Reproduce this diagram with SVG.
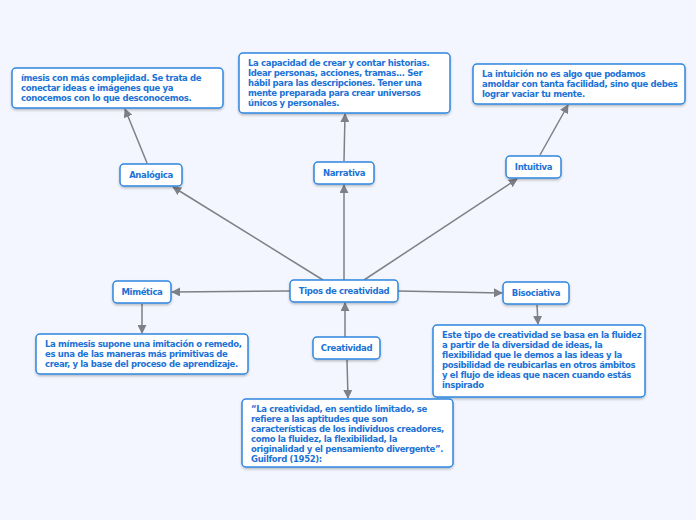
<svg xmlns="http://www.w3.org/2000/svg" width="696" height="520" viewBox="0 0 696 520">
<defs>
<marker id="ah" viewBox="0 0 10 10" refX="9" refY="5" markerWidth="9" markerHeight="9" markerUnits="userSpaceOnUse" orient="auto"><path d="M0,0 L10,5 L0,10 z" fill="#7f7f86"/></marker>
<filter id="sh" x="-10%" y="-10%" width="120%" height="130%"><feDropShadow dx="0" dy="1.5" stdDeviation="1" flood-color="#000" flood-opacity="0.25"/></filter>
</defs>
<style>
.n{fill:#fff;stroke:#2f87e0;stroke-width:1.5;filter:url(#sh)}
text{font-family:"DejaVu Sans",sans-serif;font-weight:bold;font-size:8.5px;letter-spacing:-0.35px;fill:#1c72d6}
.c{text-anchor:middle}
.e{stroke:#7f7f86;stroke-width:1.5;fill:none;marker-end:url(#ah)}
</style>
<rect width="696" height="520" fill="#f3f6fe"/>
<g id="connectors">
<line class="e" x1="323" y1="280" x2="173" y2="187"/>
<line class="e" x1="344" y1="280" x2="344" y2="185"/>
<line class="e" x1="364" y1="280" x2="517" y2="179"/>
<line class="e" x1="290" y1="291" x2="172" y2="292"/>
<line class="e" x1="398" y1="291" x2="502" y2="293"/>
<line class="e" x1="345" y1="337" x2="345" y2="303"/>
<line class="e" x1="347" y1="360" x2="348" y2="398"/>
<line class="e" x1="147" y1="163" x2="125" y2="109"/>
<line class="e" x1="344" y1="161" x2="345" y2="114"/>
<line class="e" x1="540" y1="155" x2="568" y2="105"/>
<line class="e" x1="142" y1="304" x2="142" y2="333"/>
<line class="e" x1="537" y1="305" x2="538" y2="324"/>
</g>
<g id="tipos"><rect class="n" x="290" y="280" width="108" height="22" rx="4"/><text class="c" x="344" y="294">Tipos de creatividad</text></g>
<g id="creatividad"><rect class="n" x="313" y="337" width="67" height="22" rx="4"/><text class="c" x="346.5" y="351">Creatividad</text></g>
<g id="analogica"><rect class="n" x="120" y="164" width="62" height="22" rx="4"/><text class="c" x="151" y="178">Analógica</text></g>
<g id="narrativa"><rect class="n" x="314" y="162" width="60" height="22" rx="4"/><text class="c" x="344" y="176">Narrativa</text></g>
<g id="intuitiva"><rect class="n" x="506" y="156" width="55" height="22" rx="4"/><text class="c" x="533.5" y="170">Intuitiva</text></g>
<g id="mimetica"><rect class="n" x="113" y="281" width="58" height="22" rx="4"/><text class="c" x="142" y="295">Mimética</text></g>
<g id="bisociativa"><rect class="n" x="503" y="282" width="66" height="22" rx="4"/><text class="c" x="536" y="296">Bisociativa</text></g>
<g id="analogica-desc"><rect class="n" x="12" y="68" width="211" height="40" rx="4"/>
<text x="21" y="81">ímesis con más complejidad. Se trata de</text><text x="21" y="91">conectar ideas e imágenes que ya</text><text x="21" y="101">conocemos con lo que desconocemos.</text></g>
<g id="narrativa-desc"><rect class="n" x="239" y="53" width="211" height="60" rx="4"/>
<text x="248" y="66">La capacidad de crear y contar historias.</text><text x="248" y="76">Idear personas, acciones, tramas... Ser</text><text x="248" y="86">hábil para las descripciones. Tener una</text><text x="248" y="96">mente preparada para crear universos</text><text x="248" y="106">únicos y personales.</text></g>
<g id="intuitiva-desc"><rect class="n" x="473" y="64" width="212" height="40" rx="4"/>
<text x="482" y="77">La intuición no es algo que podamos</text><text x="482" y="87">amoldar con tanta facilidad, sino que debes</text><text x="482" y="97">lograr vaciar tu mente.</text></g>
<g id="mimetica-desc"><rect class="n" x="36" y="334" width="212" height="40" rx="4"/>
<text x="45" y="347">La mímesis supone una imitación o remedo,</text><text x="45" y="357">es una de las maneras más primitivas de</text><text x="45" y="367">crear, y la base del proceso de aprendizaje.</text></g>
<g id="bisociativa-desc"><rect class="n" x="433" y="325" width="212" height="72" rx="4"/>
<text x="442" y="338">Este tipo de creatividad se basa en la fluidez</text><text x="442" y="348">a partir de la diversidad de ideas, la</text><text x="442" y="358">flexibilidad que le demos a las ideas y la</text><text x="442" y="368">posibilidad de reubicarlas en otros ámbitos</text><text x="442" y="378">y el flujo de ideas que nacen cuando estás</text><text x="442" y="388">inspirado</text></g>
<g id="guilford"><rect class="n" x="242" y="399" width="211" height="68" rx="4"/>
<text x="251" y="412">“La creatividad, en sentido limitado, se</text><text x="251" y="422">refiere a las aptitudes que son</text><text x="251" y="432">características de los individuos creadores,</text><text x="251" y="442">como la fluidez, la flexibilidad, la</text><text x="251" y="452">originalidad y el pensamiento divergente”.</text><text x="251" y="462">Guilford (1952):</text></g>
</svg>
